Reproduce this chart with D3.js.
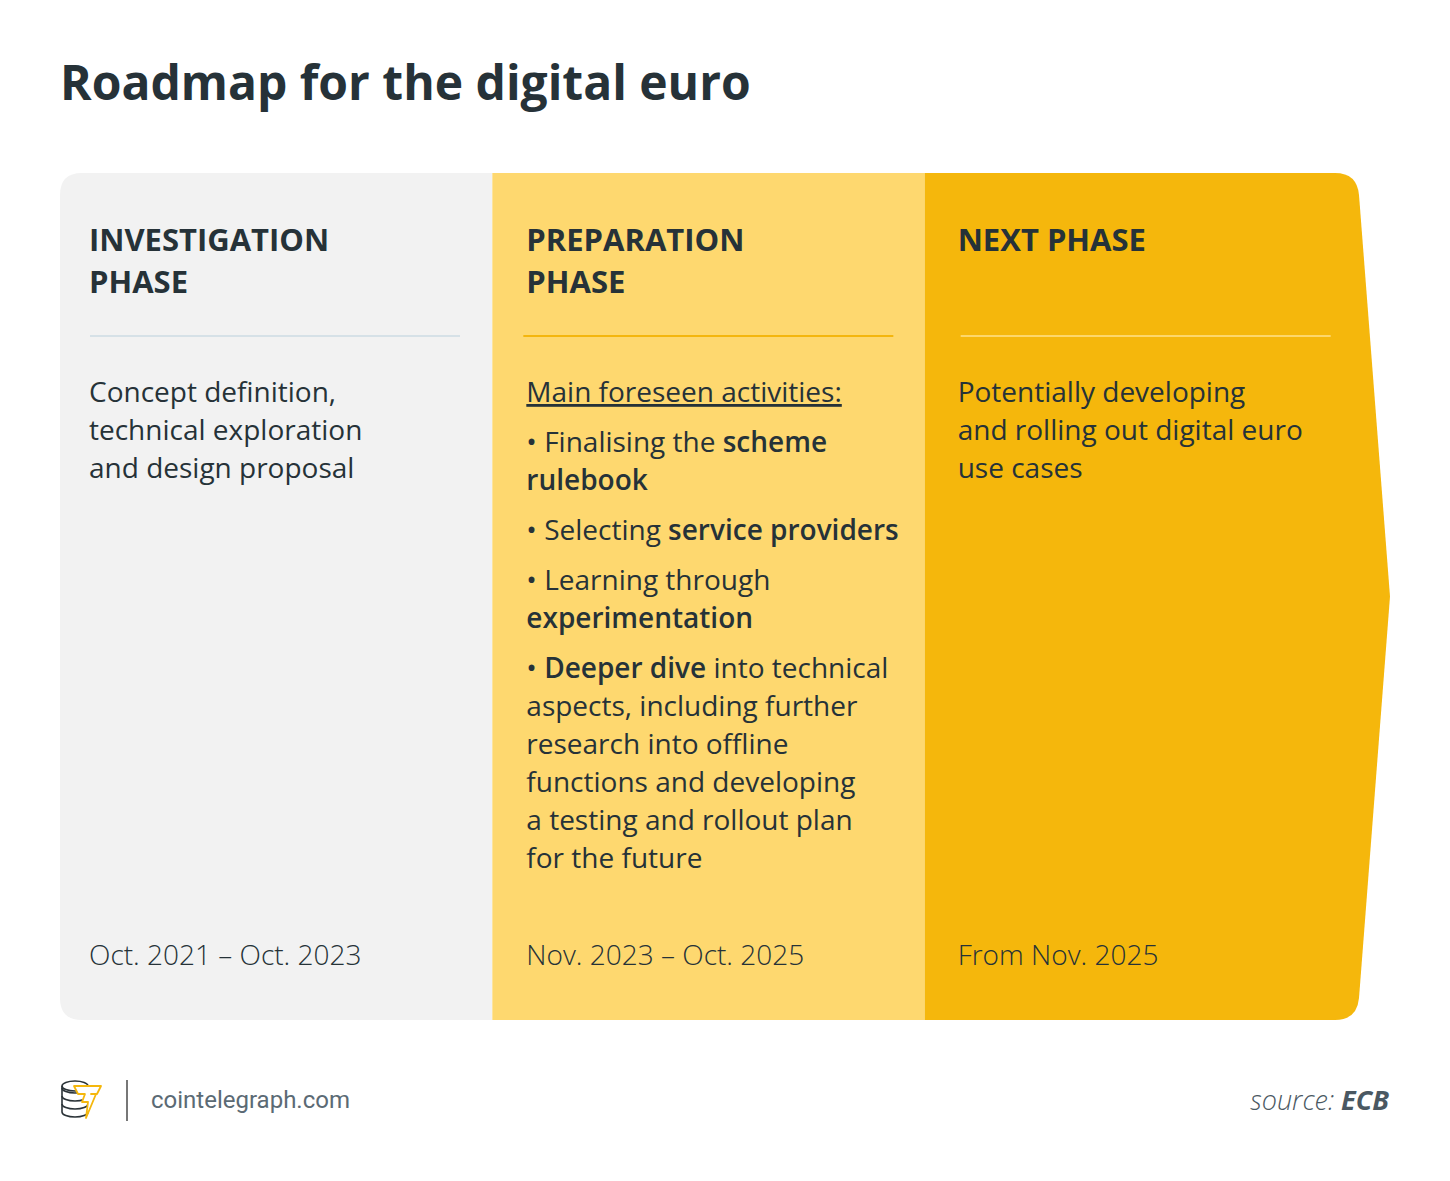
<!DOCTYPE html>
<html>
<head>
<meta charset="utf-8">
<script src="https://cdn.jsdelivr.net/npm/d3@7"></script>
<style>
  body { margin: 0; background: #fff; }
  svg { display: block; font-family: "Open Sans", sans-serif; }
</style>
</head>
<body>
<div id="chart"></div>
<script>
// phases of the roadmap
const phases = ["investigation", "preparation", "next"];
const headings = [
    ["INVESTIGATION", "PHASE"],
    ["PREPARATION", "PHASE"],
    ["NEXT PHASE"]
];
const periods = ["Oct. 2021 \u2013 Oct. 2023", "Nov. 2023 \u2013 Oct. 2025", "From Nov. 2025"];
const panelColors = ["#f2f2f2", "#fed86f", "#f5b70c"];
const ruleColors = ["#d6e1e7", "#f4b60e", "#fdd76b"];

// body text, one entry per paragraph, each line a list of [text, bold] runs
const bodies = [
    [[[["Concept definition,", 0]], [["technical exploration", 0]], [["and design proposal", 0]]]],
    [
        [[["Main foreseen activities:", 0, 1]]],
        [[["\u2022 Finalising the ", 0], ["scheme", 1]], [["rulebook", 1]]],
        [[["\u2022 Selecting ", 0], ["service providers", 1]]],
        [[["\u2022 Learning through", 0]], [["experimentation", 1]]],
        [[["\u2022 ", 0], ["Deeper dive", 1], [" into technical", 0]],
         [["aspects, including further", 0]],
         [["research into offline", 0]],
         [["functions and developing", 0]],
         [["a testing and rollout plan", 0]],
         [["for the future", 0]]]
    ],
    [[[["Potentially developing", 0]], [["and rolling out digital euro", 0]], [["use cases", 0]]]]
];

const width = 1450;
const height = 1181;
const panelTop = 173, panelBottom = 1020;
const ink = "#263238";

const svg = d3.select("#chart").append("svg")
    .attr("width", width)
    .attr("height", height);

const x = d3.scaleBand()
    .domain(phases)
    .range([60, 1357]);

// title
svg.append("text")
    .attr("x", 60)
    .attr("y", 100)
    .attr("font-size", 48)
    .attr("font-weight", 700)
    .attr("fill", ink)
    .text("Roadmap for the digital euro");

// panels
const r = 22;
const bw = x.bandwidth();
function panelPath(i) {
    const x0 = x(phases[i]), x1 = x0 + bw;
    const t = panelTop, b = panelBottom;
    if (i === 0) {
        return `M${x1},${t} H${x0 + r} Q${x0},${t} ${x0},${t + r} V${b - r} Q${x0},${b} ${x0 + r},${b} H${x1} Z`;
    }
    if (i === phases.length - 1) {
        const mid = (t + b) / 2;
        return `M${x0},${t} H${x1 - r} Q${x1},${t} ${x1 + 2},${t + r} L1390,${mid} L${x1 + 2},${b - r} Q${x1},${b} ${x1 - r},${b} H${x0} Z`;
    }
    return `M${x0},${t} H${x1} V${b} H${x0} Z`;
}

const panel = svg.selectAll(".panel")
    .data(phases)
    .enter().append("g")
    .attr("class", "panel");

panel.append("path")
    .attr("d", (d, i) => panelPath(i))
    .attr("fill", (d, i) => panelColors[i]);

const padL = [29, 34, 33];
const textX = (i) => x(phases[i]) + padL[i];

panel.each(function (d, i) {
    const g = d3.select(this);

    // heading
    g.append("text")
        .attr("font-size", 31)
        .attr("font-weight", 700)
        .attr("fill", ink)
        .selectAll("tspan")
        .data(headings[i])
        .enter().append("tspan")
        .attr("x", textX(i))
        .attr("y", (t, j) => 251 + j * 42)
        .text(t => t);

    g.append("line")
        .attr("x1", x(phases[i]) + [30, 31, 36][i])
        .attr("x2", x(phases[i]) + [400, 401, 406][i])
        .attr("y1", 336)
        .attr("y2", 336)
        .attr("stroke", ruleColors[i])
        .attr("stroke-width", 2);

    // body
    let y = 402;
    bodies[i].forEach(par => {
        par.forEach(line => {
            const t = g.append("text")
                .attr("x", textX(i))
                .attr("y", y)
                .attr("font-size", 28)
                .attr("fill", ink);
            line.forEach(run => {
                t.append("tspan")
                    .attr("font-weight", run[1] ? 600 : 400)
                    .attr("text-decoration", run[2] ? "underline" : null)
                    .text(run[0]);
            });
            y += 38;
        });
        y += 12;
    });

    g.append("text")
        .attr("x", textX(i))
        .attr("y", 965)
        .attr("font-size", 28)
        .attr("font-weight", 300)
        .attr("fill", ink)
        .text(periods[i]);
});

// footer: logo
const logo = svg.append("g")
    .attr("transform", "translate(60,1080)")
    .attr("fill", "none")
    .attr("stroke", "#2b3338")
    .attr("stroke-width", 1.6);
[0, 8, 16, 24].forEach(dy => {
    logo.append("path")
        .attr("d", `M2,${8 + dy} a13,5 0 0,0 26,0`);
});
logo.append("ellipse").attr("cx", 15).attr("cy", 6).attr("rx", 13).attr("ry", 5);
logo.append("path").attr("d", "M2,6 V32 M28,6 V10");
logo.append("path")
    .attr("d", "M14,6 H41 L37,14 H31 L36,14 L26,38 L28,22 H22 L25,14 H18 Z")
    .attr("stroke", "#f5b70c")
    .attr("fill", "#fff")
    .attr("stroke-width", 1.8)
    .attr("stroke-linejoin", "round");

svg.append("line")
    .attr("x1", 127).attr("x2", 127)
    .attr("y1", 1080).attr("y2", 1121)
    .attr("stroke", "#777")
    .attr("stroke-width", 2);

svg.append("text")
    .attr("x", 151)
    .attr("y", 1108)
    .attr("font-family", "Roboto, sans-serif")
    .attr("font-size", 24)
    .attr("fill", "#5b6a74")
    .text("cointelegraph.com");

const src = svg.append("text")
    .attr("x", 1389)
    .attr("y", 1110)
    .attr("text-anchor", "end")
    .attr("font-size", 27)
    .attr("font-style", "italic")
    .attr("fill", "#4a5862");
src.append("tspan").attr("font-weight", 300).text("source: ");
src.append("tspan").attr("font-weight", 700).text("ECB");
</script>
</body>
</html>
